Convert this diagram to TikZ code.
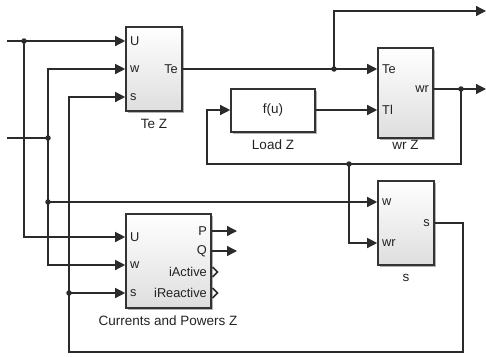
\documentclass[tikz,border=0pt]{standalone}
\usepackage{fontspec}
\setmainfont{Liberation Sans}
\usetikzlibrary{arrows.meta,shadows}
\definecolor{wirec}{HTML}{2B2B2B}
\definecolor{edgec}{HTML}{333333}
\definecolor{txtc}{HTML}{222222}
\begin{document}
\begin{tikzpicture}[x=1pt,y=-1pt,
  wire/.style={draw=wirec,line width=1.3pt},
  arr/.style={wire,-{Triangle[length=10pt,width=10pt]}},
  blk/.style={draw=edgec,line width=1.6pt,top color=white,bottom color=black!13,
    drop shadow={shadow xshift=2pt,shadow yshift=-2pt,opacity=0.3,fill=black},inner sep=0pt},
  plainblk/.style={draw=edgec,line width=1.6pt,fill=white,
    drop shadow={shadow xshift=2pt,shadow yshift=-2pt,opacity=0.3,fill=black},inner sep=0pt},
  plbl/.style={font=\fontsize{12.8}{13}\selectfont,text=txtc,inner sep=0pt},
  blbl/.style={font=\fontsize{13.5}{14}\selectfont,text=txtc,inner sep=0pt},
  dotc/.style={circle,fill=wirec,inner sep=0pt,minimum size=5.5pt},
  chev/.style={draw=wirec,line width=1.6pt}
]
\useasboundingbox (0,0) rectangle (486,356);

% blocks
\node[blk,minimum width=56pt,minimum height=84pt] (tez) at (154,69) {};
\node[blk,minimum width=55pt,minimum height=90pt] (wrz) at (405.5,93) {};
\node[plainblk,minimum width=84pt,minimum height=43pt] (load) at (273,110.5) {};
\node[blk,minimum width=56pt,minimum height=84pt] (sblk) at (406,223) {};
\node[blk,minimum width=85pt,minimum height=94pt] (cur) at (168.5,261) {};

% block captions
\node[blbl] (tezl) at (154,124) {Te Z};
\node[blbl] (loadl) at (273,145) {Load Z};
\node[blbl] (wrzl) at (405.5,145) {wr Z};
\node[blbl] (sl) at (406,278) {s};
\node[blbl] (curl) at (168,321) {Currents and Powers Z};
\node[blbl] (fu) at (273,110.5) {f(u)};

% port labels
\node[plbl,anchor=west] (tezU) at (130,41) {U};
\node[plbl,anchor=west] (tezw) at (130,69) {w};
\node[plbl,anchor=west] (tezs) at (130,97) {s};
\node[plbl,anchor=east] (tezTe) at (178,69) {Te};
\node[plbl,anchor=west] (wrzTe) at (382,69) {Te};
\node[plbl,anchor=west] (wrzTl) at (382,110) {Tl};
\node[plbl,anchor=east] (wrzwr) at (429,89) {wr};
\node[plbl,anchor=west] (sw) at (382,202) {w};
\node[plbl,anchor=west] (swr) at (382,243) {wr};
\node[plbl,anchor=east] (ss) at (430,223) {s};
\node[plbl,anchor=west] (curU) at (130,237) {U};
\node[plbl,anchor=west] (curw) at (130,265) {w};
\node[plbl,anchor=west] (curs) at (130,293) {s};
\node[plbl,anchor=east] (curP) at (207,231) {P};
\node[plbl,anchor=east] (curQ) at (207,251) {Q};
\node[plbl,anchor=east] (curiA) at (207,272) {iActive};
\node[plbl,anchor=east] (curiR) at (207,293) {iReactive};

% port coordinates
\coordinate (pTeU) at (tez.west |- 0,41);
\coordinate (pTew) at (tez.west |- 0,69);
\coordinate (pTes) at (tez.west |- 0,97);
\coordinate (pTeOut) at (tez.east |- 0,69);
\coordinate (pWrTe) at (wrz.west |- 0,69);
\coordinate (pWrTl) at (wrz.west |- 0,110);
\coordinate (pWrOut) at (wrz.east |- 0,89);
\coordinate (pLoadIn) at (load.west |- 0,110);
\coordinate (pLoadOut) at (load.east |- 0,110);
\coordinate (pSw) at (sblk.west |- 0,202);
\coordinate (pSwr) at (sblk.west |- 0,243);
\coordinate (pSout) at (sblk.east |- 0,223);
\coordinate (pCU) at (cur.west |- 0,237);
\coordinate (pCw) at (cur.west |- 0,265);
\coordinate (pCs) at (cur.west |- 0,293);
\coordinate (pCP) at (cur.east |- 0,231);
\coordinate (pCQ) at (cur.east |- 0,251);
\coordinate (in1) at (7,41);
\coordinate (in2) at (7,138);
\coordinate (out1) at (486,11);
\coordinate (out2) at (486,89);
\coordinate (outP) at (237,231);
\coordinate (outQ) at (237,251);

% junctions
\node[dotc] (j1) at (24,41) {};
\node[dotc] (j2) at (48,138) {};
\node[dotc] (j3) at (48,202) {};
\node[dotc] (j4) at (69,293) {};
\node[dotc] (j5) at (334,69) {};
\node[dotc] (j6) at (461,89) {};
\node[dotc] (j7) at (349,164) {};

% wires
\draw[arr] (in1) -- (pTeU);
\draw[arr] (j1.center) -- (24,237) -- (pCU);
\draw[wire] (in2) -- (j2.center);
\draw[arr] (j2.center) -- (48,69) -- (pTew);
\draw[arr] (j2.center) -- (48,265) -- (pCw);
\draw[arr] (j3.center) -- (pSw);
\draw[arr] (pSout) -- (463,223) -- (463,352) -- (69,352) -- (69,97) -- (pTes);
\draw[arr] (j4.center) -- (pCs);
\draw[arr] (pTeOut) -- (pWrTe);
\draw[arr] (j5.center) -- (334,11) -- (out1);
\draw[arr] (pLoadOut) -- (pWrTl);
\draw[arr] (pWrOut) -- (out2);
\draw[arr] (j6.center) -- (461,164) -- (207,164) -- (207,110) -- (pLoadIn);
\draw[arr] (j7.center) -- (349,243) -- (pSwr);
\draw[arr] (pCP) -- (outP);
\draw[arr] (pCQ) -- (outQ);

% unconnected output ports
\draw[chev] ([xshift=0.8pt]cur.east |- 0,267) -- ++(5,5) -- ++(-5,5);
\draw[chev] ([xshift=0.8pt]cur.east |- 0,288) -- ++(5,5) -- ++(-5,5);
\end{tikzpicture}
\end{document}
